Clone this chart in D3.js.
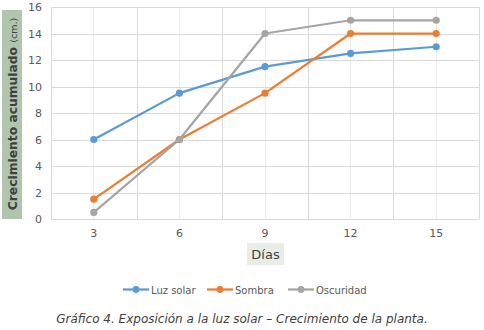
<!DOCTYPE html>
<html>
<head>
<meta charset="utf-8">
<script src="https://cdn.jsdelivr.net/npm/d3@7"></script>
<style>
  html, body { margin: 0; padding: 0; background: #ffffff; }
  svg { display: block; }
</style>
</head>
<body>
<svg id="chart" width="484" height="330"></svg>
<script>
// Growth data (cm) by day
const days = ["3", "6", "9", "12", "15"];
const luzSolar = [6, 9.5, 11.5, 12.5, 13];
const sombra = [1.5, 6, 9.5, 14, 14];
const oscuridad = [0.5, 6, 14, 15, 15];
const yTicks = [0, 2, 4, 6, 8, 10, 12, 14, 16];

const series = [
  { name: "Luz solar", values: luzSolar, color: "#5b9bd5" },
  { name: "Sombra", values: sombra, color: "#ed7d31" },
  { name: "Oscuridad", values: oscuridad, color: "#a5a5a5" }
];

const font = "'DejaVu Sans', Verdana, sans-serif";
const svg = d3.select("#chart");

const plot = { left: 51, right: 479, top: 7, bottom: 219 };

const x = d3.scaleBand().domain(days).range([plot.left, plot.right]).padding(0);
const y = d3.scaleLinear().domain([0, 16]).range([plot.bottom, plot.top]);
const cx = d => x(d) + x.bandwidth() / 2;

// Light gridlines through category centers
svg.append("g").selectAll("line").data(days).join("line")
  .attr("x1", d => cx(d)).attr("x2", d => cx(d))
  .attr("y1", plot.top).attr("y2", plot.bottom)
  .attr("stroke", "#ececec").attr("stroke-width", 1)
  .attr("shape-rendering", "crispEdges");

// Category boundary gridlines
const bounds = days.map(d => x(d)).concat([plot.right]);
svg.append("g").selectAll("line").data(bounds).join("line")
  .attr("x1", d => Math.round(d) + 0.5).attr("x2", d => Math.round(d) + 0.5)
  .attr("y1", plot.top).attr("y2", plot.bottom)
  .attr("stroke", "#d9d9d9").attr("stroke-width", 1);

// Horizontal gridlines
svg.append("g").selectAll("line").data(yTicks).join("line")
  .attr("x1", plot.left).attr("x2", plot.right)
  .attr("y1", d => Math.round(y(d)) + 0.5).attr("y2", d => Math.round(y(d)) + 0.5)
  .attr("stroke", "#d9d9d9").attr("stroke-width", 1);

// Y axis labels
const yAxis = d3.axisLeft(y).tickValues(yTicks).tickSize(0).tickPadding(9);
const gy = svg.append("g").attr("transform", `translate(${plot.left},0)`).call(yAxis);
gy.select(".domain").remove();
gy.selectAll("text").attr("font-family", font).attr("font-size", 11).attr("fill", "#595959");

// X axis labels
const xAxis = d3.axisBottom(x).tickSize(0).tickPadding(10);
const gx = svg.append("g").attr("transform", `translate(0,${plot.bottom})`).call(xAxis);
gx.select(".domain").remove();
gx.selectAll("text").attr("font-family", font).attr("font-size", 11).attr("fill", "#595959");

// Y axis title with shaded background
svg.append("rect").attr("x", 2).attr("y", 10).attr("width", 20).attr("height", 209)
  .attr("fill", "#afc5ad");
const yt = svg.append("text")
  .attr("transform", "translate(17,114) rotate(-90)")
  .attr("text-anchor", "middle")
  .attr("font-family", font).attr("fill", "#404040");
yt.append("tspan").attr("font-size", 12.3).attr("font-weight", "bold").text("Crecimiento acumulado ");
yt.append("tspan").attr("font-size", 9.5).text("(cm.)");

// X axis title with shaded background
svg.append("rect").attr("x", 247).attr("y", 243).attr("width", 37).attr("height", 22)
  .attr("fill", "#e9ede8");
svg.append("text").attr("x", 265.5).attr("y", 259).attr("text-anchor", "middle")
  .attr("font-family", font).attr("font-size", 13).attr("fill", "#404040").text("Días");

// Series lines and markers
const line = d3.line().x((v, i) => cx(days[i])).y(v => y(v));
series.forEach(s => {
  svg.append("path").datum(s.values).attr("d", line)
    .attr("fill", "none").attr("stroke", s.color).attr("stroke-width", 2.25)
    .attr("stroke-linejoin", "round");
  svg.append("g").selectAll("circle").data(s.values).join("circle")
    .attr("cx", (v, i) => cx(days[i])).attr("cy", v => y(v)).attr("r", 3.6)
    .attr("fill", s.color);
});

// Legend
const legendX = [123, 207, 288];
series.forEach((s, i) => {
  const g = svg.append("g").attr("transform", `translate(${legendX[i]},289.5)`);
  g.append("line").attr("x1", 0).attr("x2", 26).attr("y1", 0).attr("y2", 0)
    .attr("stroke", s.color).attr("stroke-width", 2.25);
  g.append("circle").attr("cx", 13).attr("cy", 0).attr("r", 3.4).attr("fill", s.color);
  g.append("text").attr("x", 28).attr("y", 4)
    .attr("font-family", font).attr("font-size", 10).attr("fill", "#595959").text(s.name);
});

// Caption
svg.append("text").attr("x", 242).attr("y", 323).attr("text-anchor", "middle")
  .attr("font-family", font).attr("font-size", 12).attr("font-style", "italic")
  .attr("fill", "#404040")
  .text("Gráfico 4. Exposición a la luz solar – Crecimiento de la planta.");
</script>
</body>
</html>
